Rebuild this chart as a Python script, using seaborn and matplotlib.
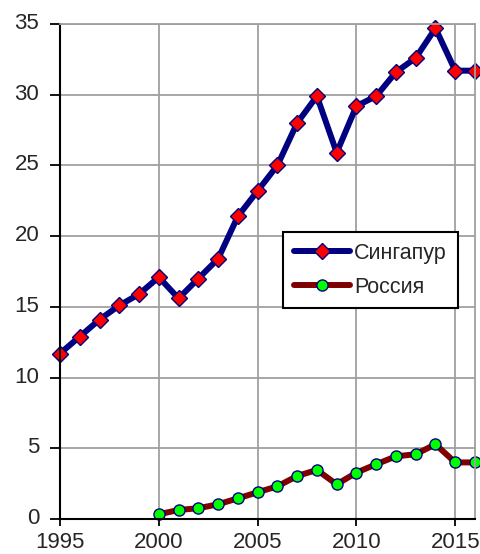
import numpy as np
import pandas as pd
import seaborn as sns
import matplotlib
matplotlib.use("Agg")
import matplotlib.pyplot as plt
from matplotlib.transforms import ScaledTranslation

years_sg = list(range(1995, 2017))
singapore = [11.7, 12.9, 14.1, 15.1, 15.9, 17.1, 15.6, 17.0, 18.4, 21.4, 23.2, 25.0,
             28.0, 29.9, 25.9, 29.2, 29.9, 31.6, 32.6, 34.7, 31.7, 31.7]
years_ru = list(range(2000, 2017))
russia = [0.33, 0.64, 0.76, 1.04, 1.46, 1.89, 2.31, 3.04, 3.47, 2.45, 3.28, 3.87,
          4.43, 4.58, 5.28, 4.0, 4.0]
x_ticks = [1995, 2000, 2005, 2010, 2015]
y_ticks = [0, 5, 10, 15, 20, 25, 30, 35]
label_sg = "Сингапур"
label_ru = "Россия"

sns.set_style("white")
plt.rcParams["font.family"] = ["Liberation Sans", "DejaVu Sans"]

df_sg = pd.DataFrame({"year": years_sg, "value": singapore})
df_ru = pd.DataFrame({"year": years_ru, "value": russia})

fig = plt.figure(figsize=(4.8, 5.54), dpi=100)
ax = fig.add_axes([60 / 480, 35 / 554, 415 / 480, 495 / 554])

grid_color = "#a0a0a0"
ax.set_axisbelow(True)
ax.grid(True, color=grid_color, linewidth=1.3)

sns.lineplot(data=df_sg, x="year", y="value", ax=ax, color="#000080", linewidth=4.3,
             marker="D", markersize=8.0, markerfacecolor="#ff0000",
             markeredgecolor="#000080", markeredgewidth=1.0, label=label_sg,
             solid_capstyle="round", solid_joinstyle="round", clip_on=False)
sns.lineplot(data=df_ru, x="year", y="value", ax=ax, color="#800000", linewidth=4.3,
             marker="o", markersize=8.0, markerfacecolor="#00ff00",
             markeredgecolor="#000080", markeredgewidth=1.0, label=label_ru,
             solid_capstyle="round", solid_joinstyle="round", clip_on=False)

ax.set_xlim(1995, 2016)
ax.set_ylim(0, 35)
ax.set_xticks(x_ticks)
ax.set_xticklabels([str(t) for t in x_ticks])
ax.set_yticks(y_ticks)
ax.set_yticklabels([str(t) for t in y_ticks])
ax.set_xlabel("")
ax.set_ylabel("")

for side in ["left", "bottom"]:
    ax.spines[side].set_color("black")
    ax.spines[side].set_linewidth(1.5)
for side in ["top", "right"]:
    ax.spines[side].set_color(grid_color)
    ax.spines[side].set_linewidth(1.3)

ax.tick_params(axis="y", direction="out", length=7, width=1.3, color="black",
               pad=8, labelsize=16, left=True)
ax.tick_params(axis="x", direction="out", length=5, width=1.3, color="black",
               pad=4, labelsize=16, bottom=True)

shift = ScaledTranslation(0, 3 / 100, fig.dpi_scale_trans)
for lbl in ax.get_yticklabels():
    lbl.set_transform(lbl.get_transform() + shift)

leg = ax.legend(loc="upper left", bbox_to_anchor=((283 - 60) / 415, (519 - 232) / 495),
                fontsize=15.5, frameon=True, fancybox=False, edgecolor="black",
                framealpha=1, handlelength=2.6, numpoints=1, borderpad=0.5,
                labelspacing=0.6, handletextpad=0.2, borderaxespad=0)
leg.get_frame().set_linewidth(1.5)

fig.savefig("out.png", dpi=100)
